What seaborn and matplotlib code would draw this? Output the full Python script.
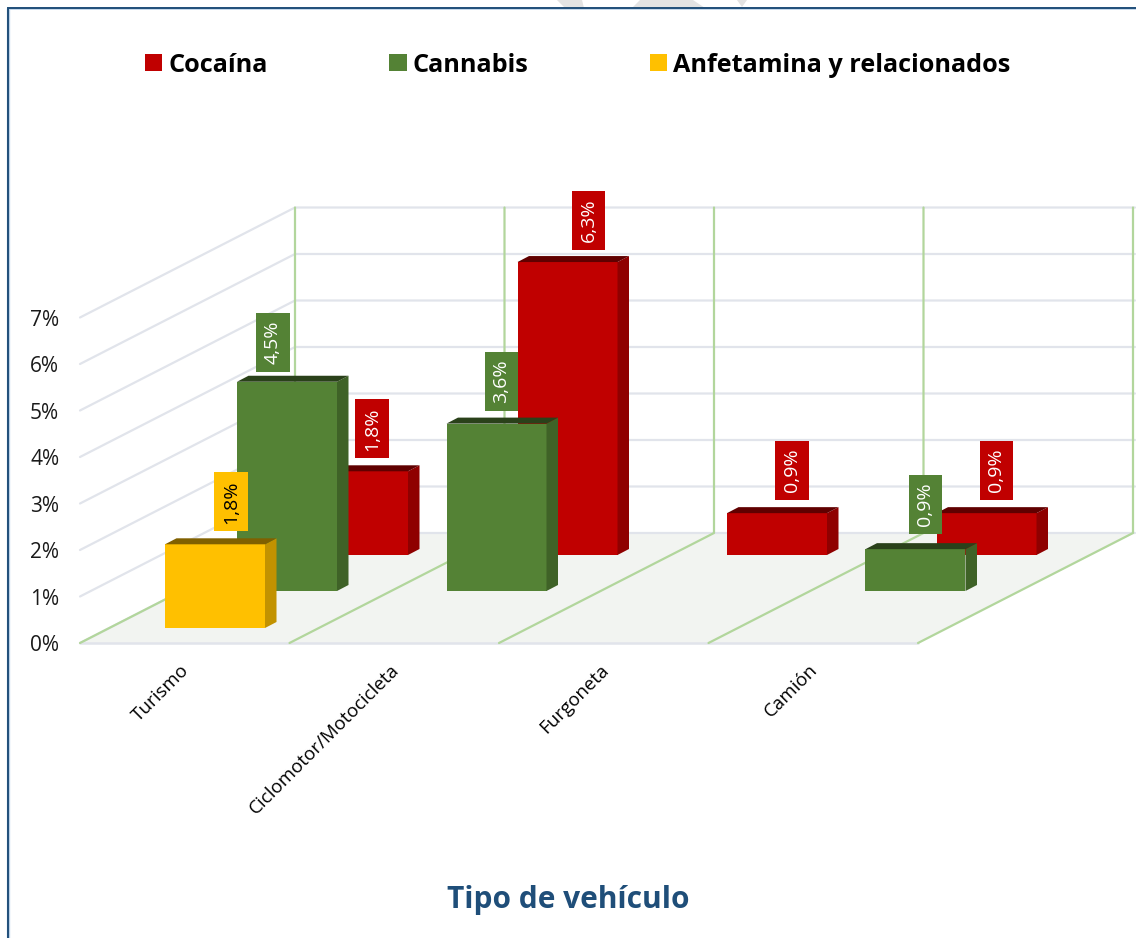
import matplotlib
matplotlib.use("Agg")
import matplotlib.pyplot as plt
from matplotlib.patches import Polygon, Patch
from matplotlib.transforms import ScaledTranslation
import pandas as pd
import seaborn as sns

# ---- data ----
categories = ["Turismo", "Ciclomotor/Motocicleta", "Furgoneta", "Camión"]
cocaina = [1.8, 6.3, 0.9, 0.9]
cannabis = [4.5, 3.6, None, 0.9]
anfetamina = [1.8, None, None, None]
series_names = ["Cocaína", "Cannabis", "Anfetamina y relacionados"]
y_ticks = [0, 1, 2, 3, 4, 5, 6, 7]
axis_title = "Tipo de vehículo"

# ---- layout (pixels of the 1136x938 canvas) ----
W, H = 1136, 938
X0, Y0 = 80, 643            # front-left corner of the floor
PLOT_W = 838
UNIT = 46.5
BACK_DX, BACK_DY = 215, -110
BAR_W = 100 / 209.5
EXT_X, EXT_Y = 11.5, 6
FONT = "Open Sans"
GRID = "#E1E4EB"
WALL = "#B2D69C"
FLOOR = "#F2F4F1"
NAVY = "#1F4E79"

styles = {
    "Cocaína": dict(depth=(173.25, -88), front="#C00000", side="#8F0000", top="#600000",
                    text="white", labels=[(13, 43), (20, 42), (14, 43), (9, 43)]),
    "Cannabis": dict(depth=(102.25, -52), front="#548235", side="#3F6227", top="#2A411A",
                     text="white", labels=[(-15, 40), (4, 43), (0, 0), (9, 45)]),
    "Anfetamina y relacionados": dict(depth=(30.25, -15), front="#FFC000", side="#C29200", top="#806000",
                                      text="black", labels=[(15, 43), (0, 0), (0, 0), (0, 0)]),
}

df = pd.DataFrame({
    "vehiculo": categories * 3,
    "serie": sum([[n] * len(categories) for n in series_names], []),
    "pct": cocaina + cannabis + anfetamina,
}).astype({"pct": float})

sns.set_theme(style="white")
plt.rcParams["font.family"] = [FONT, "DejaVu Sans"]

fig = plt.figure(figsize=(W / 100, H / 100), dpi=100, facecolor="white")


def rect(dx=0, dy=0):
    return [(X0 + dx) / W, 1 - (Y0 + dy) / H, PLOT_W / W, 7 * UNIT / H]


# ---- stage: frame, walls, floor ----
stage = fig.add_axes([0, 0, 1, 1], zorder=0)
stage.set_xlim(0, W)
stage.set_ylim(H, 0)
stage.axis("off")

for pts in ([(557, 0), (582, 0), (584, 8), (565, 8)],
            [(640, 0), (693, 0), (705, 8), (632, 8)],
            [(737, 0), (747, 0), (742, 7)]):
    stage.add_patch(Polygon(pts, closed=True, fc="#E3E3E3", ec="none", zorder=1))

stage.plot([8, 8], [H, 8.5], color="#BCD2E8", lw=2.4, zorder=2, solid_capstyle="butt")
stage.plot([8, W], [9.5, 9.5], color="#BCD2E8", lw=1.2, zorder=2, solid_capstyle="butt")
stage.plot([8, 8, W], [H, 8, 8], color=NAVY, lw=1.4, zorder=3, solid_joinstyle="miter")

stage.add_patch(Polygon([(X0, Y0), (X0 + PLOT_W, Y0), (X0 + PLOT_W + BACK_DX + 2, Y0 + BACK_DY),
                         (X0 + BACK_DX, Y0 + BACK_DY)], closed=True, fc=FLOOR, ec="none", zorder=1))
for k in y_ticks:
    yf = Y0 - k * UNIT
    yb = Y0 + BACK_DY - k * UNIT
    stage.plot([X0, X0 + BACK_DX, W - 1], [yf, yb, yb], color=GRID, lw=1.6, zorder=2)
stage.plot([X0, X0 + PLOT_W], [Y0, Y0], color=GRID, lw=1.8, zorder=2)
for i in range(5):
    xf = X0 + i * PLOT_W / 4
    stage.plot([xf, xf + BACK_DX, xf + BACK_DX],
               [Y0, Y0 + BACK_DY, Y0 + BACK_DY - 7 * UNIT], color=WALL, lw=1.6, zorder=3)

# ---- front plane: the axes with ticks ----
front = fig.add_axes(rect(), zorder=1)
front.patch.set_alpha(0)
front.set_xlim(-0.5, len(categories) - 0.5)
front.set_ylim(0, 7)
sns.despine(ax=front, left=True, bottom=True)
front.set_yticks(y_ticks, [f"{t}%" for t in y_ticks])
front.set_xticks(range(len(categories)), categories)
front.tick_params(axis="y", length=0, pad=15, labelsize=15, labelcolor="#1a1a1a")
front.tick_params(axis="x", length=0, pad=13, labelsize=13.5, labelcolor="black")
shift = ScaledTranslation(-4.5 / 100, 0, fig.dpi_scale_trans)
for lab in front.get_xticklabels():
    lab.set(rotation=45, ha="right", va="top", rotation_mode="anchor")
    lab.set_transform(lab.get_transform() + shift)

# ---- one axes per depth row, back to front ----
for z, name in enumerate(series_names):
    st = styles[name]
    ax = fig.add_axes(rect(*st["depth"]), zorder=2 + z)
    ax.patch.set_alpha(0)
    sns.barplot(data=df[df["serie"] == name], x="vehiculo", y="pct", order=categories,
                color=st["front"], saturation=1, width=BAR_W, ax=ax, errorbar=None,
                linewidth=0, edgecolor="none")
    ax.set_xlim(-0.5, len(categories) - 0.5)
    ax.set_ylim(0, 7)
    ax.axis("off")
    ex = EXT_X * (len(categories)) / PLOT_W
    ey = EXT_Y / UNIT
    vals = df[df["serie"] == name]["pct"].tolist()
    bars = [b for b in ax.patches]
    for i, v in enumerate(vals):
        if pd.isna(v):
            continue
        b = min(bars, key=lambda p: abs(p.get_x() + p.get_width() / 2 - i))
        l, r, t = b.get_x(), b.get_x() + b.get_width(), b.get_height()
        ax.add_patch(Polygon([(r, 0), (r + ex, ey), (r + ex, t + ey), (r, t)], closed=True,
                             fc=st["side"], ec="none", clip_on=False))
        ax.add_patch(Polygon([(l, t), (l + ex, t + ey), (r + ex, t + ey), (r, t)], closed=True,
                             fc=st["top"], ec="none", clip_on=False))
        ox, oy = st["labels"][i]
        ax.annotate(f"{v:.1f}".replace(".", ",") + "%", xy=(i, t), xytext=(ox + 1, oy - 0.5),
                    textcoords="offset pixels", ha="center", va="center", rotation=90,
                    fontsize=14, color=st["text"], annotation_clip=False, zorder=6,
                    bbox=dict(boxstyle="square,pad=0.4", fc=st["front"], ec="none"))

# ---- legend and title ----
handles = [Patch(fc=styles[n]["front"], ec="none") for n in series_names]
fig.legend(handles, series_names, ncols=3, loc="center left", bbox_to_anchor=(122 / W, 1 - 65 / H),
           frameon=False, handlelength=0.7, handleheight=0.7, handletextpad=0.23,
           columnspacing=4.8, labelcolor="black",
           prop=dict(family=FONT, weight="bold", size=18.2))
fig.supxlabel(axis_title, x=568 / W, y=1 - 900 / H, va="center", ha="center",
              fontsize=21.5, fontweight="bold", color=NAVY, family=FONT)

fig.savefig("out.png", dpi=100)
